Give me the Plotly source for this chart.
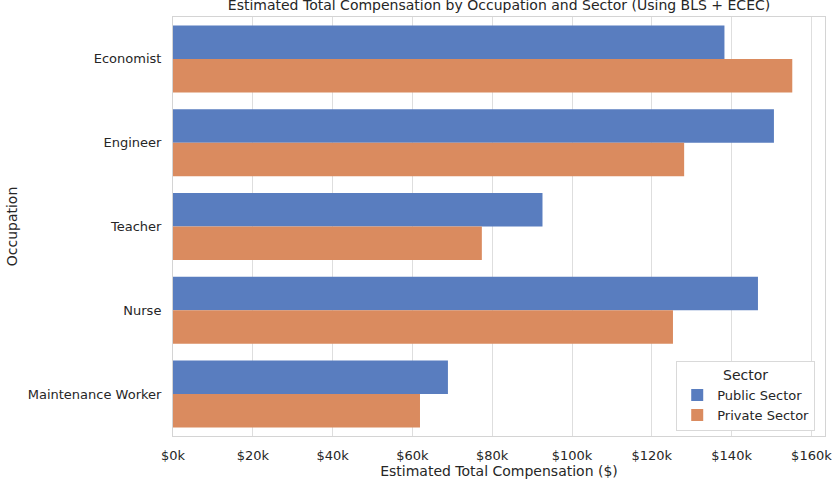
import plotly.graph_objects as go

occupations = ["Economist", "Engineer", "Teacher", "Nurse", "Maintenance Worker"]
public_sector = [138200, 150600, 92600, 146600, 68900]
private_sector = [155200, 128100, 77400, 125300, 61900]
tick_values = [0, 20000, 40000, 60000, 80000, 100000, 120000, 140000, 160000]
tick_labels = ["$0k", "$20k", "$40k", "$60k", "$80k", "$100k", "$120k", "$140k", "$160k"]

FONT = "DejaVu Sans"
fig = go.Figure()
fig.add_trace(go.Bar(y=occupations, x=public_sector, orientation="h", name="Public Sector",
                     marker=dict(color="#597dbf", line=dict(width=0))))
fig.add_trace(go.Bar(y=occupations, x=private_sector, orientation="h", name="Private Sector",
                     marker=dict(color="#da8b5f", line=dict(width=0))))

fig.update_layout(
    width=840, height=480,
    margin=dict(l=173, r=15, t=17, b=44, autoexpand=False),
    paper_bgcolor="white", plot_bgcolor="white",
    barmode="group", bargap=0.2, bargroupgap=0,
    font=dict(family=FONT, color="#262626", size=13),
    title=dict(text="Estimated Total Compensation by Occupation and Sector (Using BLS + ECEC)",
               x=0.5, xref="paper", xanchor="center", y=0.99, yref="container", yanchor="middle",
               font=dict(size=14, color="#262626", family=FONT), automargin=False),
    xaxis=dict(range=[0, 163400], tickvals=tick_values, ticktext=tick_labels,
               showgrid=True, gridcolor="#dedede", gridwidth=1, zeroline=False,
               showline=True, linecolor="#d4d4d4", linewidth=1, mirror=True,
               ticks="outside", ticklen=7, tickcolor="rgba(0,0,0,0)", automargin=False,
               title=dict(text="Estimated Total Compensation ($)", font=dict(size=14), standoff=2)),
    yaxis=dict(autorange="reversed", showgrid=False, zeroline=False,
               showline=True, linecolor="#d4d4d4", linewidth=1, mirror=True,
               ticks="outside", ticklen=8, tickcolor="rgba(0,0,0,0)", automargin=False,
               title=dict(text="Occupation", font=dict(size=14), standoff=6)),
    legend=dict(x=0.985, y=0.012, xanchor="right", yanchor="bottom",
                bgcolor="white", bordercolor="#d9d9d9", borderwidth=1,
                title=dict(text="Sector", side="top center", font=dict(size=14)),
                font=dict(size=13), traceorder="normal"),
)

fig.write_html("out.html")
